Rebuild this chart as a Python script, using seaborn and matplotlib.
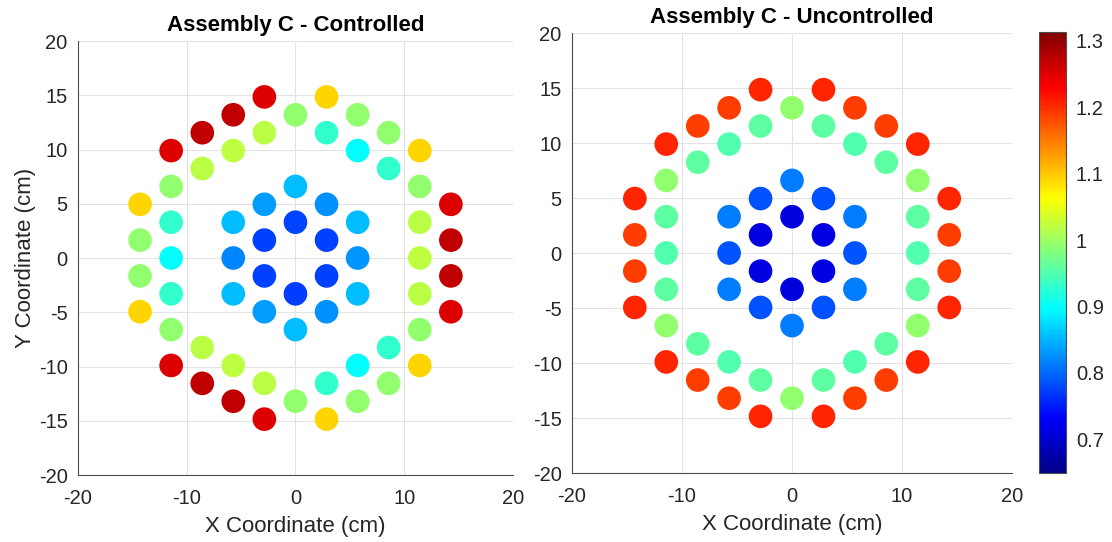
import numpy as np
import pandas as pd
import matplotlib
matplotlib.use("Agg")
import matplotlib.pyplot as plt
from matplotlib.colors import LinearSegmentedColormap, Normalize
from matplotlib.cm import ScalarMappable
import seaborn as sns

# Pin positions (cm), listed ring by ring, clockwise from the top
pin_x = [
    0.0, 2.86, 2.86, 0.0, -2.86, -2.86,
    0.0, 2.86, 5.72, 5.72, 5.72, 2.86, 0.0, -2.86, -5.72, -5.72, -5.72, -2.86,
    0.0, 2.86, 5.72, 8.57, 11.43, 11.43, 11.43, 11.43, 11.43, 8.57, 5.72, 2.86,
    0.0, -2.86, -5.72, -8.57, -11.43, -11.43, -11.43, -11.43, -11.43, -8.57, -5.72, -2.86,
    2.86, 5.72, 8.57, 11.43, 14.29, 14.29, 14.29, 14.29, 11.43, 8.57, 5.72, 2.86,
    -2.86, -5.72, -8.57, -11.43, -14.29, -14.29, -14.29, -14.29, -11.43, -8.57, -5.72, -2.86,
]
pin_y = [
    3.3, 1.65, -1.65, -3.3, -1.65, 1.65,
    6.6, 4.95, 3.3, 0.0, -3.3, -4.95, -6.6, -4.95, -3.3, 0.0, 3.3, 4.95,
    13.2, 11.55, 9.9, 8.25, 6.6, 3.3, 0.0, -3.3, -6.6, -8.25, -9.9, -11.55,
    -13.2, -11.55, -9.9, -8.25, -6.6, -3.3, 0.0, 3.3, 6.6, 8.25, 9.9, 11.55,
    14.85, 13.2, 11.55, 9.9, 4.95, 1.65, -1.65, -4.95, -9.9, -11.55, -13.2, -14.85,
    -14.85, -13.2, -11.55, -9.9, -4.95, -1.65, 1.65, 4.95, 9.9, 11.55, 13.2, 14.85,
]

# Relative pin power, same order as the positions
power_controlled = [
    0.778, 0.776, 0.774, 0.772, 0.774, 0.776,
    0.856, 0.826, 0.856, 0.830, 0.856, 0.826, 0.856, 0.834, 0.856, 0.820, 0.856, 0.834,
    0.992, 0.930, 0.898, 0.930, 0.992, 1.018, 1.022, 1.018, 0.992, 0.930, 0.898, 0.930,
    0.992, 1.018, 1.022, 1.018, 0.992, 0.930, 0.898, 0.930, 0.992, 1.018, 1.022, 1.018,
    1.090, 0.992, 0.992, 1.090, 1.252, 1.271, 1.271, 1.252, 1.090, 0.992, 0.992, 1.090,
    1.252, 1.271, 1.271, 1.252, 1.090, 0.992, 0.992, 1.090, 1.252, 1.271, 1.271, 1.252,
]
power_uncontrolled = [
    0.710, 0.712, 0.712, 0.710, 0.712, 0.712,
    0.815, 0.784, 0.815, 0.789, 0.815, 0.784, 0.815, 0.784, 0.815, 0.789, 0.815, 0.784,
    0.992, 0.960, 0.950, 0.960, 0.992, 0.960, 0.950, 0.960, 0.992, 0.960, 0.950, 0.960,
    0.992, 0.960, 0.950, 0.960, 0.992, 0.960, 0.950, 0.960, 0.992, 0.960, 0.950, 0.960,
    1.205, 1.189, 1.189, 1.205, 1.205, 1.189, 1.189, 1.205, 1.205, 1.189, 1.189, 1.205,
    1.205, 1.189, 1.189, 1.205, 1.205, 1.189, 1.189, 1.205, 1.205, 1.189, 1.189, 1.205,
]

titles = ["Assembly C - Controlled", "Assembly C - Uncontrolled"]
x_ticks = [-20, -10, 0, 10, 20]
y_ticks = [-20, -15, -10, -5, 0, 5, 10, 15, 20]
cbar_ticks = [0.7, 0.8, 0.9, 1.0, 1.1, 1.2, 1.3]
cbar_labels = ["0.7", "0.8", "0.9", "1", "1.1", "1.2", "1.3"]
c_min, c_max = 0.649, 1.313

# Classic jet ramp (MATLAB style)
jet = LinearSegmentedColormap("jet_classic", {
    "red":   [(0, 0, 0), (3/8, 0, 0), (5/8, 1, 1), (7/8, 1, 1), (1, 0.5, 0.5)],
    "green": [(0, 0, 0), (1/8, 0, 0), (3/8, 1, 1), (5/8, 1, 1), (7/8, 0, 0), (1, 0, 0)],
    "blue":  [(0, 0.52, 0.52), (1/8, 1, 1), (3/8, 1, 1), (5/8, 0, 0), (1, 0, 0)],
}, N=256)
norm = Normalize(vmin=c_min, vmax=c_max)

sns.set_style("white")
plt.rcParams["font.family"] = ["Liberation Sans", "DejaVu Sans"]
plt.rcParams["axes.unicode_minus"] = False
text_color = "#262626"
edge_color = "#4d4d4d"

fig = plt.figure(figsize=(11.12, 5.42), dpi=100)
ax_left = fig.add_axes([0.0701, 0.1236, 0.3912, 0.8007])
ax_right = fig.add_axes([0.5144, 0.1273, 0.3957, 0.8118])
cax = fig.add_axes([0.9344, 0.1268, 0.0243, 0.8137])

frames = [
    pd.DataFrame({"x": pin_x, "y": pin_y, "power": power_controlled}),
    pd.DataFrame({"x": pin_x, "y": pin_y, "power": power_uncontrolled}),
]

for ax, df, title in zip([ax_left, ax_right], frames, titles):
    sns.scatterplot(data=df, x="x", y="y", hue="power", palette=jet,
                    hue_norm=norm, s=290, linewidth=0, legend=False,
                    ax=ax, zorder=3)
    ax.set_xlim(-20, 20)
    ax.set_ylim(-20, 20)
    ax.set_xticks(x_ticks)
    ax.set_yticks(y_ticks)
    ax.grid(True, color="#e3e3e3", linewidth=0.8, zorder=0)
    ax.set_axisbelow(True)
    for side in ["top", "right"]:
        ax.spines[side].set_visible(False)
    for side in ["left", "bottom"]:
        ax.spines[side].set_color(edge_color)
        ax.spines[side].set_linewidth(0.8)
    ax.tick_params(direction="in", length=4, width=0.8, color=edge_color,
                   labelsize=14.5, labelcolor=text_color)
    ax.tick_params(axis="x", pad=10)
    ax.tick_params(axis="y", pad=7.5)
    ax.set_title(title, fontsize=16, fontweight="bold", color="black", pad=7)
    ax.set_xlabel("X Coordinate (cm)", fontsize=16, color=text_color, labelpad=6)
    ax.set_ylabel("")

ax_left.set_ylabel("Y Coordinate (cm)", fontsize=16, color=text_color, labelpad=2)

sm = ScalarMappable(norm=norm, cmap=jet)
cb = fig.colorbar(sm, cax=cax)
cb.set_ticks(cbar_ticks)
cb.set_ticklabels(cbar_labels)
cb.outline.set_edgecolor(edge_color)
cb.outline.set_linewidth(0.8)
cax.tick_params(direction="in", length=4, width=0.8, color=edge_color,
                labelsize=14.5, labelcolor=text_color, pad=7)

fig.savefig("out.png", dpi=100, facecolor="white")
